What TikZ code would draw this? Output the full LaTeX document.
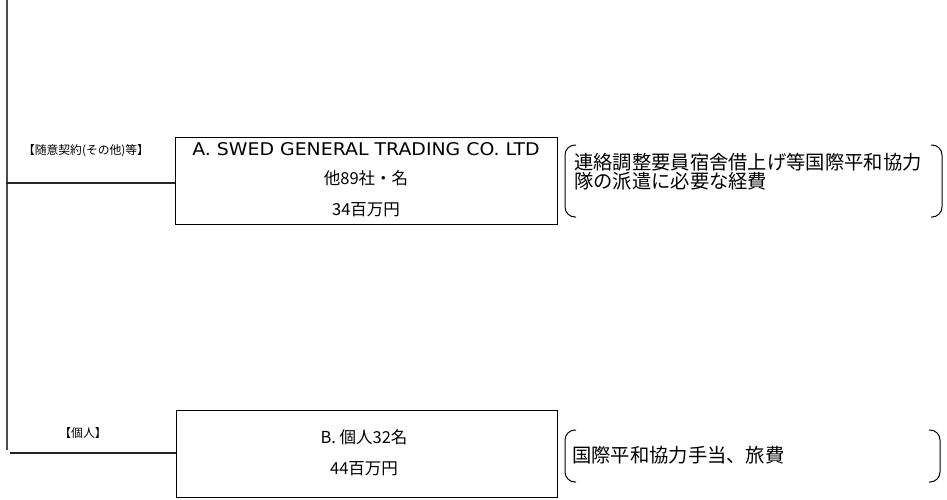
\documentclass[tikz,border=0pt]{standalone}
\usepackage{fontspec}
\setmainfont{Noto Sans CJK JP}
\newfontfamily\latinfont[FakeStretch=1.08]{DejaVu Sans}
\begin{document}
\begin{tikzpicture}[x=1pt,y=-1pt,
  box/.style={draw, line width=1pt, anchor=north west, inner sep=0pt},
  link/.style={line width=1.3pt, draw=black!85},
  brk/.style={line width=1pt, rounded corners=10pt},
  lbl/.style={font=\fontsize{11.8}{12}\selectfont, inner sep=0pt},
  boxtxt/.style={font=\fontsize{16.5}{17}\selectfont, inner sep=0pt},
  note/.style={font=\fontsize{19.3}{19}\selectfont, inner sep=0pt, align=left, anchor=west}]
\useasboundingbox (0,0) rectangle (947,500);
% trunk
\coordinate (top) at (7,0);
\coordinate (bot) at (7,450);
\draw[line width=2pt, draw=black!70] (top) -- (bot);
% boxes
\node[box, minimum width=382pt, minimum height=87pt] (A) at (175,137) {};
\node[box, minimum width=381pt, minimum height=87pt] (B) at (176,410) {};
% connectors
\coordinate (j1) at (6,183);
\coordinate (j2) at (10,453);
\draw[link] (j1) -- (j1 -| A.west);
\draw[link] (j2) -- (j2 -| B.west);
% labels
\node[lbl] (la) at (86,151) {【随意契約(その他)等】};
\node[lbl] (lb) at (83,433) {【個人】};
% box A text
\node[inner sep=0pt, font=\latinfont\fontsize{17.5}{18}\selectfont] (a1) at (366,149) {A. SWED GENERAL TRADING CO. LTD};
\node[boxtxt] (a2) at (366,178) {他89社・名};
\node[boxtxt] (a3) at (366,210) {34百万円};
% box B text
\node[boxtxt] (b1) at (364,437) {B. 個人32名};
\node[boxtxt] (b2) at (364,469) {44百万円};
% brackets A
\draw[brk] (576,145) -- (565,145) -- (565,217) -- (576,217);
\draw[brk] (931,145) -- (942,145) -- (942,217) -- (931,217);
\node[note] (na) at (574,172) {連絡調整要員宿舎借上げ等国際平和協力\\隊の派遣に必要な経費};
% brackets B
\draw[brk] (576,430) -- (565,430) -- (565,482) -- (576,482);
\draw[brk] (929,430) -- (940,430) -- (940,482) -- (929,482);
\node[note] (nb) at (572,455) {国際平和協力手当、旅費};
\end{tikzpicture}
\end{document}
